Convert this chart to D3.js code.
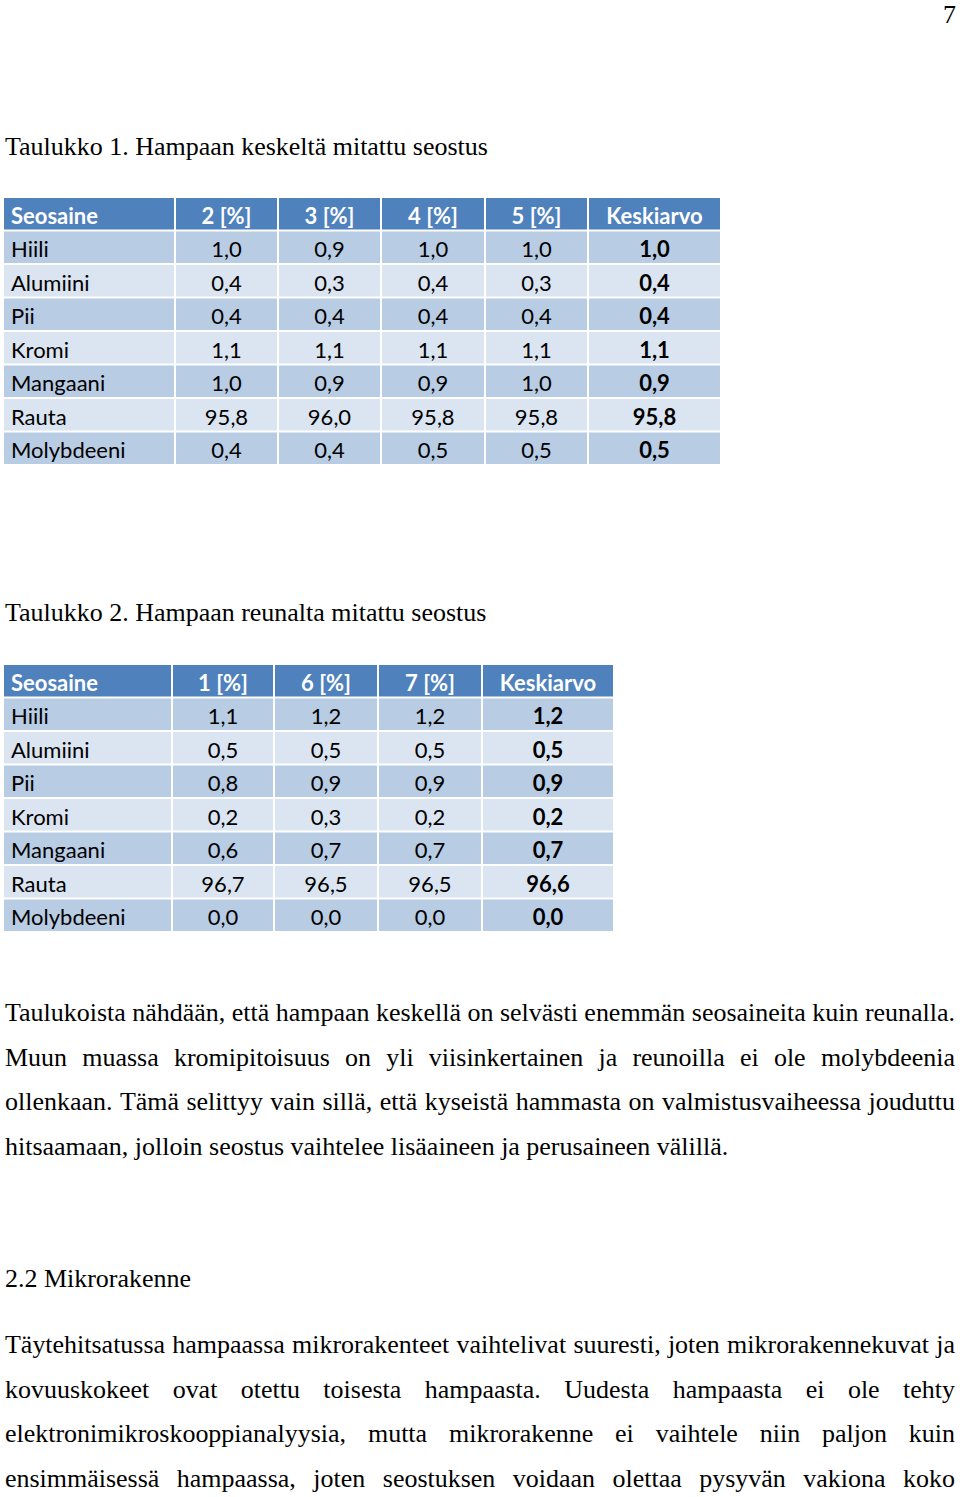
<!DOCTYPE html>
<html><head><meta charset="utf-8">
<script src="https://cdn.jsdelivr.net/npm/d3@7"></script>
<style>body{margin:0;background:#fff}svg{display:block}</style>
</head><body>
<svg id="page" width="960" height="1497"></svg>
<script>
// ---------- DATA ----------
const elements = ["Hiili","Alumiini","Pii","Kromi","Mangaani","Rauta","Molybdeeni"];
const t1Headers = ["Seosaine","2 [%]","3 [%]","4 [%]","5 [%]","Keskiarvo"];
const t1s2 = [1.0,0.4,0.4,1.1,1.0,95.8,0.4];
const t1s3 = [0.9,0.3,0.4,1.1,0.9,96.0,0.4];
const t1s4 = [1.0,0.4,0.4,1.1,0.9,95.8,0.5];
const t1s5 = [1.0,0.3,0.4,1.1,1.0,95.8,0.5];
const t1avg = [1.0,0.4,0.4,1.1,0.9,95.8,0.5];
const t2Headers = ["Seosaine","1 [%]","6 [%]","7 [%]","Keskiarvo"];
const t2s1 = [1.1,0.5,0.8,0.2,0.6,96.7,0.0];
const t2s6 = [1.2,0.5,0.9,0.3,0.7,96.5,0.0];
const t2s7 = [1.2,0.5,0.9,0.2,0.7,96.5,0.0];
const t2avg = [1.2,0.5,0.9,0.2,0.7,96.6,0.0];
const caption1 = "Taulukko 1. Hampaan keskeltä mitattu seostus";
const caption2 = "Taulukko 2. Hampaan reunalta mitattu seostus";
const para1 = [
 "Taulukoista nähdään, että hampaan keskellä on selvästi enemmän seosaineita kuin reunalla.",
 "Muun muassa kromipitoisuus on yli viisinkertainen ja reunoilla ei ole molybdeenia",
 "ollenkaan. Tämä selittyy vain sillä, että kyseistä hammasta on valmistusvaiheessa jouduttu",
 "hitsaamaan, jolloin seostus vaihtelee lisäaineen ja perusaineen välillä."
];
const heading = "2.2 Mikrorakenne";
const para2 = [
 "Täytehitsatussa hampaassa mikrorakenteet vaihtelivat suuresti, joten mikrorakennekuvat ja",
 "kovuuskokeet ovat otettu toisesta hampaasta. Uudesta hampaasta ei ole tehty",
 "elektronimikroskooppianalyysia, mutta mikrorakenne ei vaihtele niin paljon kuin",
 "ensimmäisessä hampaassa, joten seostuksen voidaan olettaa pysyvän vakiona koko"
];
const pageNumber = "7";

// ---------- RENDER ----------
const svg = d3.select("#page");
const fmt = v => d3.format(".1f")(v).replace(".", ",");
const serif = "'Liberation Serif','Times New Roman',serif";
const sans = "Lato, 'Open Sans', sans-serif";
const C = {head:"#4F81BD", dark:"#B8CCE4", light:"#DBE5F1"};

function drawTable(top, edges, headers, cols) {
  const g = svg.append("g");
  const nRows = elements.length + 1;
  const y = d3.scaleBand().domain(d3.range(nRows)).range([top, top + 268]);
  const rows = [headers].concat(elements.map((e, i) => [e].concat(cols.map(c => fmt(c[i])))));
  rows.forEach((r, ri) => {
    r.forEach((txt, ci) => {
      const x0 = edges[ci], x1 = edges[ci + 1];
      const fill = ri === 0 ? C.head : (ri % 2 === 1 ? C.dark : C.light);
      g.append("rect").attr("x", x0 + 1).attr("y", y(ri) + 1)
        .attr("width", x1 - x0 - 2).attr("height", y.bandwidth() - 2).attr("fill", fill);
      const last = ci === r.length - 1;
      g.append("text")
        .attr("x", ci === 0 ? x0 + 8 : (x0 + x1) / 2)
        .attr("y", y(ri) + y.bandwidth() / 2 + 10)
        .attr("text-anchor", ci === 0 ? "start" : "middle")
        .attr("font-family", sans).attr("font-size", 22)
        .attr("font-weight", ri === 0 || last ? 700 : 400)
        .attr("fill", ri === 0 ? "#fff" : "#000")
        .text(txt);
    });
  });
}
drawTable(197, [3,175,278,381,485,588,721], t1Headers, [t1s2,t1s3,t1s4,t1s5,t1avg]);
drawTable(664, [3,172,274,378,482,614], t2Headers, [t2s1,t2s6,t2s7,t2avg]);

// serif text with condensed glyphs
const FS = 26;
const measurer = svg.append("text").attr("font-family", serif).attr("font-size", FS).attr("visibility","hidden");
function wlen(s){ measurer.text(s); return measurer.node().getComputedTextLength(); }
const spaceW = wlen("a a") - wlen("aa");
function natural(line){ const ws=line.split(" "); return d3.sum(ws, wlen) + spaceW*(ws.length-1); }
const SX = 950 / natural(para1[0]);
function drawLine(line, x0, base, justify) {
  const ws = line.split(" ");
  const widths = ws.map(w => wlen(w) * SX);
  let gap = spaceW * SX;
  if (justify && ws.length > 1) gap = (955 - x0 - d3.sum(widths)) / (ws.length - 1);
  let x = x0;
  ws.forEach((w, i) => {
    svg.append("text").attr("x", x).attr("y", base)
      .attr("font-family", serif).attr("font-size", FS).attr("fill", "#000")
      .attr("textLength", widths[i]).attr("lengthAdjust", "spacingAndGlyphs").text(w);
    x += widths[i] + gap;
  });
}
drawLine(pageNumber, 943, 23, false);
drawLine(caption1, 5, 155, false);
drawLine(caption2, 5, 621, false);
para1.forEach((l, i) => drawLine(l, 5, 1021 + i * 44.7, i < para1.length - 1));
drawLine(heading, 5, 1287, false);
para2.forEach((l, i) => drawLine(l, 5, 1353 + i * 44.7, true));
measurer.remove();
</script>
</body></html>
